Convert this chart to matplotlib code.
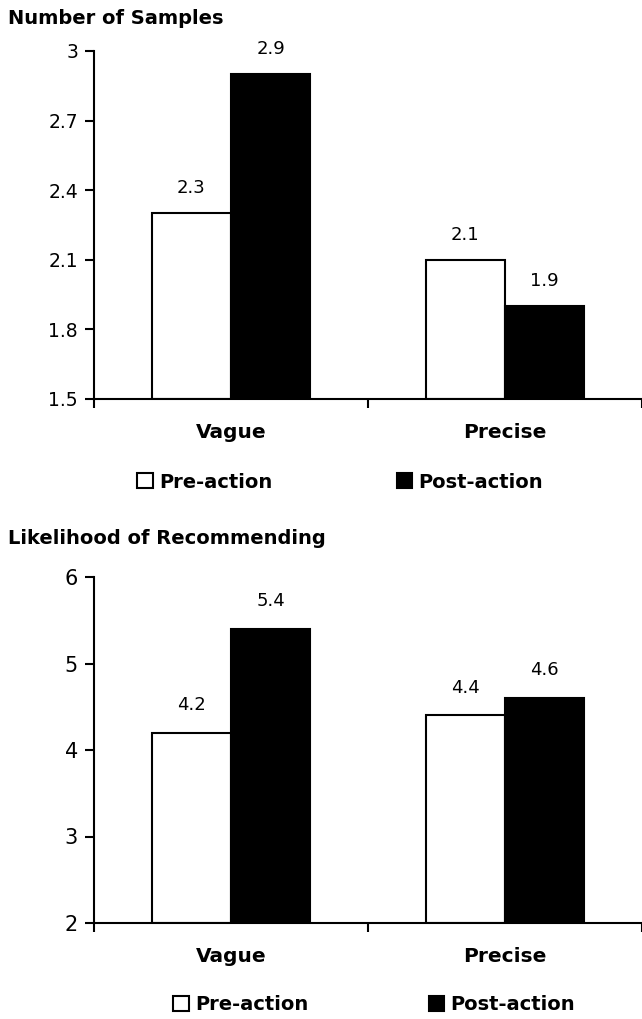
import matplotlib
matplotlib.use("Agg")
import matplotlib.pyplot as plt
from matplotlib.patches import Patch

categories = ["Vague", "Precise"]
series_names = ["Pre-action", "Post-action"]

samples_pre = [2.3, 2.1]
samples_post = [2.9, 1.9]
samples_ticks = [1.5, 1.8, 2.1, 2.4, 2.7, 3.0]
samples_tick_labels = ["1.5", "1.8", "2.1", "2.4", "2.7", "3"]

recommend_pre = [4.2, 4.4]
recommend_post = [5.4, 4.6]
recommend_ticks = [2, 3, 4, 5, 6]

BAR_W = 0.29
LW = 1.5


def draw_panel(ax, pre, post, ticks, tick_labels, tick_size, label_gap):
    xs = list(range(len(categories)))
    base = ticks[0]
    ax.bar([x - BAR_W / 2 for x in xs], [v - base for v in pre], BAR_W,
           bottom=base, color="white", edgecolor="black", linewidth=LW,
           zorder=2)
    ax.bar([x + BAR_W / 2 for x in xs], [v - base for v in post], BAR_W,
           bottom=base, color="black", edgecolor="black", linewidth=LW,
           zorder=2)
    for x, v in zip(xs, pre):
        ax.annotate(f"{v:.1f}", (x - BAR_W / 2, v), xytext=(0, label_gap),
                    textcoords="offset points", ha="center", va="center",
                    fontsize=13)
    for x, v in zip(xs, post):
        ax.annotate(f"{v:.1f}", (x + BAR_W / 2, v), xytext=(0, label_gap),
                    textcoords="offset points", ha="center", va="center",
                    fontsize=13)

    ax.set_xlim(-0.5, len(categories) - 0.5)
    ax.set_ylim(ticks[0], ticks[-1])
    ax.set_yticks(ticks)
    ax.set_yticklabels(tick_labels, fontsize=tick_size)
    # boundary ticks between groups, group names on minor ticks
    ax.set_xticks([i - 0.5 for i in range(len(categories) + 1)])
    ax.set_xticklabels([])
    ax.set_xticks(xs, minor=True)
    ax.set_xticklabels(categories, minor=True, fontsize=14.5,
                       fontweight="bold")
    ax.tick_params(axis="x", which="minor", length=0, pad=17)
    ax.tick_params(axis="x", which="major", direction="out", length=6.5,
                   width=LW)
    ax.tick_params(axis="y", direction="out", length=6.5, width=LW, pad=5)
    for side in ["top", "right"]:
        ax.spines[side].set_visible(False)
    for side in ["left", "bottom"]:
        ax.spines[side].set_linewidth(LW)
    ax.spines["bottom"].set_zorder(3)


fig = plt.figure(figsize=(6.42, 10.19), dpi=100)
W, H = 642, 1019

ax1 = fig.add_axes([94 / W, 1 - 399 / H, 1 - 94 / W, (399 - 51) / H])
draw_panel(ax1, samples_pre, samples_post, samples_ticks,
           samples_tick_labels, 13.5, 18)
fig.text(8 / W, 1 - 18 / H, "Number of Samples", fontsize=14,
         fontweight="bold", va="center", ha="left")

ax2 = fig.add_axes([94 / W, 1 - 923 / H, 1 - 94 / W, (923 - 577) / H])
draw_panel(ax2, recommend_pre, recommend_post, recommend_ticks,
           [str(t) for t in recommend_ticks], 15, 20)
fig.text(8 / W, 1 - 539 / H, "Likelihood of Recommending", fontsize=14,
         fontweight="bold", va="center", ha="left")

handles = [Patch(facecolor="white", edgecolor="black", linewidth=LW),
           Patch(facecolor="black", edgecolor="black", linewidth=LW)]
legend_kw = dict(ncol=2, frameon=False, loc="center", handlelength=0.8,
                 handleheight=0.8, handletextpad=0.3,
                 prop={"size": 14, "weight": "bold"})
fig.legend(handles, series_names, bbox_to_anchor=(340 / W, 1 - 482 / H),
           columnspacing=6.4, **legend_kw)
fig.legend(handles, series_names, bbox_to_anchor=(374 / W, 1 - 1005 / H),
           columnspacing=6.2, **legend_kw)

fig.savefig("out.png", dpi=100)
